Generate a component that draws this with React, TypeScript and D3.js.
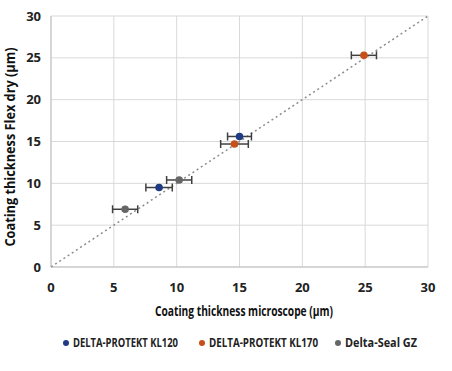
import React from 'react';
import * as d3 from 'd3';

const seriesNames = ['DELTA-PROTEKT KL120', 'DELTA-PROTEKT KL170', 'Delta-Seal GZ'];
const seriesColors = ['#1f3b84', '#c5501a', '#666666'];
// microscope (x), flex dry (y), x error
const kl120X = [8.6, 15.0];
const kl120Y = [9.5, 15.6];
const kl120Err = [1.05, 0.95];
const kl170X = [14.6, 24.9];
const kl170Y = [14.7, 25.3];
const kl170Err = [1.1, 1.0];
const gzX = [5.9, 10.2];
const gzY = [6.9, 10.4];
const gzErr = [1.0, 1.0];
const ticks = [0, 5, 10, 15, 20, 25, 30];

const App = () => {
  const margin = { top: 16, left: 51 };
  const width = 377, height = 251;
  const x = d3.scaleLinear().domain([0, 30]).range([margin.left, margin.left + width]);
  const y = d3.scaleLinear().domain([0, 30]).range([margin.top + height, margin.top]);
  const font = "'Liberation Sans Narrow', 'Open Sans', sans-serif";

  const series = [
    { xs: kl120X, ys: kl120Y, err: kl120Err },
    { xs: kl170X, ys: kl170Y, err: kl170Err },
    { xs: gzX, ys: gzY, err: gzErr },
  ];
  // gray first, orange on top
  const order = [2, 0, 1];
  const legendX = [66, 202, 338];
  const legendW = [105, 109, 72];

  return (
    <svg width={452} height={371} style={{ position: 'absolute', left: 0, top: 0 }}>
      <rect width={452} height={371} fill="#fff" />
      {ticks.map(t => (
        <g key={'g' + t}>
          <line x1={x(t)} x2={x(t)} y1={y(0)} y2={y(30)} stroke="#d9d9d9" />
          <line x1={x(0)} x2={x(30)} y1={y(t)} y2={y(t)} stroke="#d9d9d9" />
          <text x={41} y={y(t)} dy="0.35em" textAnchor="end" fontFamily={font} fontWeight={700} fontSize={13} fill="#222">{t}</text>
          <text x={x(t)} y={292} textAnchor="middle" fontFamily={font} fontWeight={700} fontSize={13} fill="#222">{t}</text>
        </g>
      ))}
      <line x1={x(0)} x2={x(30)} y1={y(0)} y2={y(0)} stroke="#bfbfbf" />
      <line x1={x(0)} x2={x(0)} y1={y(0)} y2={y(30)} stroke="#bfbfbf" />
      <line x1={x(0)} y1={y(0)} x2={x(30)} y2={y(30)} stroke="#8c8c8c" strokeWidth={1.5} strokeDasharray="2,3" />
      {order.map(i => {
        const s = series[i];
        return (
          <g key={'s' + i}>
            {s.xs.map((v, j) => {
              const cy = y(s.ys[j]);
              const x0 = x(v - s.err[j]), x1 = x(v + s.err[j]);
              return (
                <g key={j}>
                  <line x1={x0} x2={x1} y1={cy} y2={cy} stroke="#404040" strokeWidth={1.5} />
                  <line x1={x0} x2={x0} y1={cy - 4} y2={cy + 4} stroke="#404040" strokeWidth={1.5} />
                  <line x1={x1} x2={x1} y1={cy - 4} y2={cy + 4} stroke="#404040" strokeWidth={1.5} />
                  <circle cx={x(v)} cy={cy} r={3.8} fill={seriesColors[i]} />
                </g>
              );
            })}
          </g>
        );
      })}
      <text x={244} y={316} textAnchor="middle" fontFamily={font} fontWeight={700} fontSize={15} fill="#111"
        textLength={178} lengthAdjust="spacingAndGlyphs">Coating thickness microscope (µm)</text>
      <text transform={`translate(15,147) rotate(-90)`} textAnchor="middle" fontFamily={font} fontWeight={700} fontSize={15} fill="#111"
        textLength={199} lengthAdjust="spacingAndGlyphs">Coating thickness Flex dry (µm)</text>
      {seriesNames.map((n, i) => (
        <g key={'l' + i}>
          <circle cx={legendX[i]} cy={343} r={3} fill={seriesColors[i]} />
          <text x={legendX[i] + 7} y={343} dy="0.35em" fontFamily={font} fontWeight={700} fontSize={12.5} fill="#222"
            textLength={legendW[i]} lengthAdjust="spacingAndGlyphs">{n}</text>
        </g>
      ))}
    </svg>
  );
};

export default App;
